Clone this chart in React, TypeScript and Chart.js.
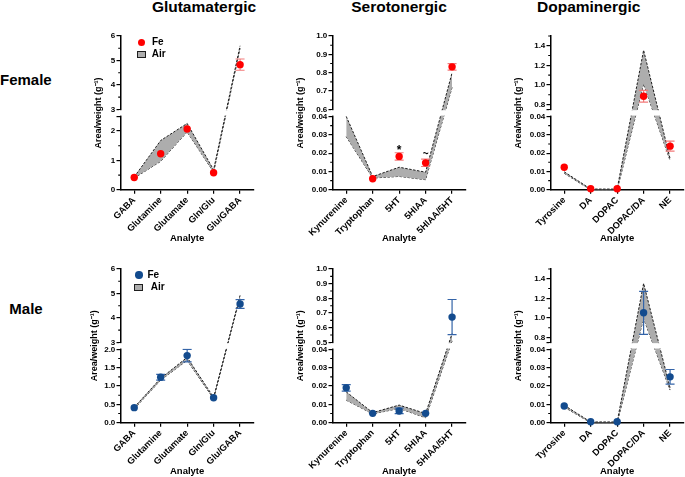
import React, { useEffect, useRef } from 'react';
import { Chart, registerables, LinearScale } from 'chart.js';

// ---------------- DATA ----------------
const glutCategories = ['GABA', 'Glutamine', 'Glutamate', 'Gln/Glu', 'Glu/GABA'];
const seroCategories = ['Kynurenine', 'Tryptophan', '5HT', '5HIAA', '5HIAA/5HT'];
const dopaCategories = ['Tyrosine', 'DA', 'DOPAC', 'DOPAC/DA', 'NE'];

// Female – glutamatergic
const glutFemaleFe = [0.42, 1.23, 2.07, 0.58, 4.83];
const glutFemaleFeErr = [0.02, 0.05, 0.05, 0.02, 0.23];
const glutFemaleAirHi = [0.44, 1.68, 2.26, 0.68, 5.6];
const glutFemaleAirLo = [0.4, 0.97, 1.97, 0.6, 5.5];
// Male – glutamatergic
const glutMaleFe = [0.41, 1.24, 1.83, 0.68, 4.57];
const glutMaleFeErr = [0.02, 0.08, 0.17, 0.02, 0.18];
const glutMaleAirHi = [0.42, 1.21, 1.78, 0.69, 4.92];
const glutMaleAirLo = [0.38, 1.16, 1.7, 0.65, 4.85];
// Female – serotonergic
const seroFemaleFe = [null, 0.006, 0.0182, 0.0147, 0.832];
const seroFemaleFeErr = [0, 0.0005, 0.002, 0.002, 0.018];
const seroFemaleAirHi = [0.04, 0.0072, 0.0123, 0.0096, 0.8];
const seroFemaleAirLo = [0.029, 0.0064, 0.0073, 0.0055, 0.72];
const seroFemaleMarks = ['', '', '*', '~', ''];
// Male – serotonergic
const seroMaleFe = [0.019, 0.0051, 0.0064, 0.0051, 0.672];
const seroMaleFeErr = [0.0018, 0.0004, 0.0015, 0.0004, 0.12];
const seroMaleAirHi = [0.0168, 0.0055, 0.0096, 0.005, 0.56];
const seroMaleAirLo = [0.0123, 0.0048, 0.0078, 0.0027, 0.51];
// Female – dopaminergic
const dopaFemaleFe = [0.0123, 0.0006, 0.0006, 0.885, 0.0238];
const dopaFemaleFeErr = [0.0004, 0.0002, 0.0002, 0.06, 0.0027];
const dopaFemaleAirHi = [0.0098, 0.0004, 0.0004, 1.355, 0.017];
const dopaFemaleAirLo = [0.009, 0.0, 0.0, 1.01, 0.016];
// Male – dopaminergic
const dopaMaleFe = [0.0091, 0.0005, 0.0005, 1.052, 0.025];
const dopaMaleFeErr = [0.0004, 0.0002, 0.0002, 0.22, 0.004];
const dopaMaleAirHi = [0.0095, 0.0004, 0.0004, 1.353, 0.019];
const dopaMaleAirLo = [0.0085, 0.0, 0.0, 0.995, 0.0178];

// Broken y-axis segments [min, max]
const glutFemaleBottomRange = [0, 2.5];
const glutFemaleTopRange = [3, 6];
const glutMaleBottomRange = [0, 2];
const glutMaleTopRange = [3, 6];
const seroFemaleBottomRange = [0, 0.04];
const seroFemaleTopRange = [0.6, 1.0];
const seroMaleBottomRange = [0, 0.04];
const seroMaleTopRange = [0.5, 1.0];
const dopaBottomRange = [0, 0.04];
const dopaTopRange = [0.75, 1.5];

// Tick labels
const glutFemaleBottomTicks = ['0', '1', '2'];
const glutFemaleTopTicks = ['3', '4', '5', '6'];
const glutFemaleMinorTicks = [0.5, 1.5, 3.5, 4.5, 5.5];
const glutMaleBottomTicks = ['0.0', '0.5', '1.0', '1.5', '2.0'];
const glutMaleTopTicks = ['3', '4', '5', '6'];
const glutMaleMinorTicks = [0.25, 0.75, 1.25, 1.75, 3.5, 4.5, 5.5];
const seroBottomTicks = ['0.00', '0.01', '0.02', '0.03', '0.04'];
const seroFemaleTopTicks = ['0.6', '0.7', '0.8', '0.9', '1.0'];
const seroFemaleMinorTicks = [0.005, 0.015, 0.025, 0.035, 0.65, 0.75, 0.85, 0.95];
const seroMaleTopTicks = ['0.5', '0.6', '0.7', '0.8', '0.9', '1.0'];
const seroMaleMinorTicks = [0.005, 0.015, 0.025, 0.035, 0.55, 0.65, 0.75, 0.85, 0.95];
const dopaBottomTicks = ['0.00', '0.01', '0.02', '0.03', '0.04'];
const dopaTopTicks = ['0.8', '1.0', '1.2', '1.4'];
const dopaMinorTicks = [0.005, 0.015, 0.025, 0.035, 0.9, 1.1, 1.3, 1.5];

const columnTitles = ['Glutamatergic', 'Serotonergic', 'Dopaminergic'];
const rowLabels = ['Female', 'Male'];
const legendLabels = ['Fe', 'Air'];
const xTitle = 'Analyte';
const yTitle = 'Area/weight (g\u207B\u00B9)';

// ---------------- STYLE / LAYOUT ----------------
const FONT = '"Liberation Sans", Arial, Helvetica, sans-serif';
const COLORS = {
  F: { point: '#FF0000', err: '#F27A7A' },
  M: { point: '#134B8E', err: '#3464A8' },
};
const AIR_FILL = '#ADADAD';
const AIR_LINE = '#1E1E1E';
const AXIS_X = [120.6, 333.3, 550.5];
const PLOT_TOP = [35.5, 269];
const PLOT_BOTTOM = [189.3, 422.7];
const Y_TITLE_DIST = [[22.6, 32.3, 32.8], [26.3, 32.6, 32.8]];
const PLOT_W = 133.5;
const Y_W = 40;
const PAD_TOP = 10;
const CANVAS_W = 176;
const CANVAS_H = 220;
const GAP = 7;
const X_TICK_SIZE = 9.2;
const Y_TICK_SIZE = 8;
const X_TITLE_SIZE = 9.5;
const Y_TITLE_SIZE = 9;

Chart.register(...registerables);
Chart.defaults.font.family = FONT;

type Brk = { botMin: number; botMax: number; topMin: number; topMax: number; gap: number; labels: string[]; minor: number[] };
const brkMap = new Map<any, Brk>();

class BrokenLinearScale extends LinearScale {
  static id = 'brokenLinear';
  get brk(): Brk {
    return brkMap.get((this as any).chart.canvas) as Brk;
  }
  determineDataLimits() {
    const b = this.brk;
    (this as any).min = b.botMin;
    (this as any).max = b.topMax;
  }
  buildTicks() {
    const b = this.brk;
    const ticks: any[] = b.labels.map((s) => ({ value: parseFloat(s), lbl: s }));
    [b.botMax, b.topMin].forEach((v) => {
      if (!ticks.some((t) => Math.abs(t.value - v) < 1e-9)) ticks.push({ value: v, lbl: '' });
    });
    ticks.sort((a, c) => a.value - c.value);
    return ticks;
  }
  getPixelForValue(value: number) {
    const b = this.brk;
    if (value === null || value === undefined || isNaN(value)) return NaN;
    const top = (this as any).top;
    const bottom = (this as any).bottom;
    const segH = (bottom - top - b.gap) / 2;
    if (value <= b.botMax) return bottom - ((value - b.botMin) / (b.botMax - b.botMin)) * segH;
    if (value >= b.topMin) return top + segH - ((value - b.topMin) / (b.topMax - b.topMin)) * segH;
    return bottom - segH - ((value - b.botMax) / (b.topMin - b.botMax)) * b.gap;
  }
  getValueForPixel(pixel: number) {
    const b = this.brk;
    const top = (this as any).top;
    const bottom = (this as any).bottom;
    const segH = (bottom - top - b.gap) / 2;
    const gTop = top + segH;
    const gBot = gTop + b.gap;
    if (pixel >= gBot) return b.botMin + ((bottom - pixel) / segH) * (b.botMax - b.botMin);
    if (pixel <= gTop) return b.topMin + ((gTop - pixel) / segH) * (b.topMax - b.topMin);
    return b.botMax + ((gBot - pixel) / b.gap) * (b.topMin - b.botMax);
  }
}
Chart.register(BrokenLinearScale as any);

const errorBarPlugin = {
  id: 'errorBars',
  beforeDatasetDraw(chart: any, args: any) {
    if (args.index !== 0) return;
    const ds = chart.data.datasets[0];
    const ys = chart.scales.y;
    const meta = chart.getDatasetMeta(0);
    const ctx = chart.ctx;
    ctx.save();
    ctx.strokeStyle = ds.errColor;
    ctx.lineWidth = 1.2;
    meta.data.forEach((pt: any, i: number) => {
      const v = ds.data[i];
      const e = ds.errors[i];
      if (v === null || v === undefined || !e) return;
      const y1 = ys.getPixelForValue(v + e);
      const y2 = ys.getPixelForValue(v - e);
      const x = pt.x;
      ctx.beginPath();
      ctx.moveTo(x, y1);
      ctx.lineTo(x, y2);
      if (Math.abs(y2 - y1) / 2 > 2.5) {
        ctx.moveTo(x - 4.5, y1);
        ctx.lineTo(x + 4.5, y1);
        ctx.moveTo(x - 4.5, y2);
        ctx.lineTo(x + 4.5, y2);
      }
      ctx.stroke();
    });
    ctx.restore();
  },
};

const brokenAxisPlugin = {
  id: 'brokenAxis',
  afterDatasetsDraw(chart: any) {
    const b = brkMap.get(chart.canvas);
    if (!b) return;
    const ys = chart.scales.y;
    const ca = chart.chartArea;
    const ctx = chart.ctx;
    const segH = (ys.bottom - ys.top - b.gap) / 2;
    const g1 = ys.top + segH;
    ctx.save();
    // white gap across axis and data
    ctx.fillStyle = '#FFFFFF';
    ctx.fillRect(ca.left - 2, g1 + 0.8, ca.right - ca.left + 4, b.gap - 1.6);
    // minor ticks
    ctx.strokeStyle = '#000';
    ctx.lineWidth = 1.1;
    ctx.beginPath();
    b.minor.forEach((v) => {
      const y = ys.getPixelForValue(v);
      ctx.moveTo(ca.left, y);
      ctx.lineTo(ca.left - 2.8, y);
    });
    ctx.stroke();
    // significance marks
    const ds = chart.data.datasets[0];
    if (ds.marks) {
      const meta = chart.getDatasetMeta(0);
      ctx.fillStyle = '#000';
      ctx.textAlign = 'center';
      ctx.textBaseline = 'alphabetic';
      ds.marks.forEach((m: string, i: number) => {
        if (!m) return;
        const v = ds.data[i] + (ds.errors[i] || 0);
        const y = ys.getPixelForValue(v);
        const x = meta.data[i].x;
        if (m === '*') {
          ctx.font = `bold 12px ${FONT}`;
          ctx.fillText(m, x, y + 1);
        } else {
          ctx.font = `bold 10px ${FONT}`;
          ctx.fillText(m, x, y - 2.5);
        }
      });
    }
    ctx.restore();
  },
};

type Panel = {
  row: number;
  col: number;
  sex: 'F' | 'M';
  categories: string[];
  fe: (number | null)[];
  err: number[];
  hi: number[];
  lo: number[];
  bot: number[];
  top: number[];
  botTicks: string[];
  topTicks: string[];
  minor: number[];
  marks?: string[];
};

const panels: Panel[] = [
  { row: 0, col: 0, sex: 'F', categories: glutCategories, fe: glutFemaleFe, err: glutFemaleFeErr, hi: glutFemaleAirHi, lo: glutFemaleAirLo, bot: glutFemaleBottomRange, top: glutFemaleTopRange, botTicks: glutFemaleBottomTicks, topTicks: glutFemaleTopTicks, minor: glutFemaleMinorTicks },
  { row: 0, col: 1, sex: 'F', categories: seroCategories, fe: seroFemaleFe, err: seroFemaleFeErr, hi: seroFemaleAirHi, lo: seroFemaleAirLo, bot: seroFemaleBottomRange, top: seroFemaleTopRange, botTicks: seroBottomTicks, topTicks: seroFemaleTopTicks, minor: seroFemaleMinorTicks, marks: seroFemaleMarks },
  { row: 0, col: 2, sex: 'F', categories: dopaCategories, fe: dopaFemaleFe, err: dopaFemaleFeErr, hi: dopaFemaleAirHi, lo: dopaFemaleAirLo, bot: dopaBottomRange, top: dopaTopRange, botTicks: dopaBottomTicks, topTicks: dopaTopTicks, minor: dopaMinorTicks },
  { row: 1, col: 0, sex: 'M', categories: glutCategories, fe: glutMaleFe, err: glutMaleFeErr, hi: glutMaleAirHi, lo: glutMaleAirLo, bot: glutMaleBottomRange, top: glutMaleTopRange, botTicks: glutMaleBottomTicks, topTicks: glutMaleTopTicks, minor: glutMaleMinorTicks },
  { row: 1, col: 1, sex: 'M', categories: seroCategories, fe: seroMaleFe, err: seroMaleFeErr, hi: seroMaleAirHi, lo: seroMaleAirLo, bot: seroMaleBottomRange, top: seroMaleTopRange, botTicks: seroBottomTicks, topTicks: seroMaleTopTicks, minor: seroMaleMinorTicks },
  { row: 1, col: 2, sex: 'M', categories: dopaCategories, fe: dopaMaleFe, err: dopaMaleFeErr, hi: dopaMaleAirHi, lo: dopaMaleAirLo, bot: dopaBottomRange, top: dopaTopRange, botTicks: dopaBottomTicks, topTicks: dopaTopTicks, minor: dopaMinorTicks },
];

function PanelChart({ p }: { p: Panel }) {
  const ref = useRef<HTMLCanvasElement>(null);
  const plotH = PLOT_BOTTOM[p.row] - PLOT_TOP[p.row];
  const xH = CANVAS_H - PAD_TOP - plotH;
  const xLh = X_TITLE_SIZE * 1.2;
  const yLh = Y_TITLE_SIZE * 1.2;
  const xPadB = CANVAS_H - (PAD_TOP + plotH + 48.2) - xLh / 2;
  const yPadT = Y_W - Y_TITLE_DIST[p.row][p.col] - yLh / 2;

  useEffect(() => {
    const canvas = ref.current as HTMLCanvasElement;
    brkMap.set(canvas, {
      botMin: p.bot[0], botMax: p.bot[1], topMin: p.top[0], topMax: p.top[1], gap: GAP,
      labels: [...p.botTicks, ...p.topTicks], minor: p.minor,
    });
    const col = COLORS[p.sex];
    const lineDs = (data: number[], fill: any) => ({
      data,
      borderColor: AIR_LINE,
      borderWidth: 1,
      borderDash: [2.5, 1.5],
      pointRadius: 0,
      pointHoverRadius: 0,
      fill,
      backgroundColor: AIR_FILL,
      tension: 0,
    });
    const chart = new Chart(canvas, {
      type: 'line',
      data: {
        labels: p.categories,
        datasets: [
          {
            label: 'Fe',
            data: p.fe,
            showLine: false,
            pointRadius: 3.7,
            pointHoverRadius: 3.7,
            pointBackgroundColor: col.point,
            pointBorderWidth: 0,
            borderWidth: 0,
            borderColor: col.point,
            clip: false,
            errors: p.err,
            errColor: col.err,
            marks: p.marks,
          } as any,
          { label: 'Air', ...lineDs(p.hi, '+1') } as any,
          { label: 'Air lo', ...lineDs(p.lo, false) } as any,
        ],
      },
      options: {
        animation: false,
        responsive: true,
        maintainAspectRatio: false,
        events: [],
        layout: { padding: { top: PAD_TOP, right: CANVAS_W - Y_W - PLOT_W, bottom: 0, left: 0 } },
        plugins: { legend: { display: false }, tooltip: { enabled: false }, title: { display: false } },
        scales: {
          x: {
            type: 'category',
            offset: true,
            afterFit: (s: any) => { s.height = xH; },
            grid: { display: true, drawOnChartArea: false, drawTicks: true, tickLength: 4, color: '#000', lineWidth: 1.2, offset: false },
            border: { display: true, color: '#000', width: 1.5 },
            ticks: { autoSkip: false, minRotation: 45, maxRotation: 45, padding: 1, color: '#000', font: { size: X_TICK_SIZE, weight: 'bold', family: FONT } },
            title: { display: true, text: xTitle, color: '#000', font: { size: X_TITLE_SIZE, weight: 'bold', family: FONT }, padding: { top: 0, bottom: xPadB } },
          },
          y: {
            type: 'brokenLinear',
            position: 'left',
            afterFit: (s: any) => { s.width = Y_W; },
            grid: { display: true, drawOnChartArea: false, drawTicks: true, tickLength: 4.5, color: '#000', lineWidth: 1.2 },
            border: { display: true, color: '#000', width: 1.5 },
            ticks: {
              autoSkip: false,
              padding: 1.2,
              color: '#000',
              font: { size: Y_TICK_SIZE, weight: 'bold', family: FONT },
              callback: (_v: any, i: number, ticks: any[]) => ticks[i].lbl,
            },
            title: { display: true, text: yTitle, color: '#000', font: { size: Y_TITLE_SIZE, weight: 'bold', family: FONT }, padding: { top: yPadT, bottom: 0 } },
          } as any,
        },
      },
      plugins: [errorBarPlugin, brokenAxisPlugin],
    } as any);
    return () => {
      chart.destroy();
      brkMap.delete(canvas);
    };
  }, []);

  return (
    <div
      style={{
        position: 'absolute',
        left: AXIS_X[p.col] - Y_W,
        top: PLOT_TOP[p.row] - PAD_TOP,
        width: CANVAS_W,
        height: CANVAS_H,
      }}
    >
      <canvas ref={ref} />
    </div>
  );
}

const textBase: React.CSSProperties = {
  position: 'absolute',
  fontFamily: FONT,
  fontWeight: 700,
  lineHeight: 1,
  color: '#000',
  whiteSpace: 'nowrap',
};

function Legend({ sex, row }: { sex: 'F' | 'M'; row: number }) {
  const f = row === 0
    ? { cx: 141.7, cy: 42.3, feX: 152, bx: 136.7, by: 50.7, airX: 151.7, airY: 54 }
    : { cx: 139.0, cy: 275, feX: 147.5, bx: 133.5, by: 284.3, airX: 150.7, airY: 287.3 };
  return (
    <>
      <div style={{ position: 'absolute', left: f.cx - 3.7, top: f.cy - 3.7, width: 7.4, height: 7.4, borderRadius: '50%', background: COLORS[sex].point }} />
      <div style={{ ...textBase, fontSize: 10, left: f.feX, top: f.cy - 4.9 }}>{legendLabels[0]}</div>
      <div style={{ position: 'absolute', left: f.bx, top: f.by, width: 7.4, height: 5, background: AIR_FILL, border: `1px solid ${AIR_LINE}` }} />
      <div style={{ ...textBase, fontSize: 10, left: f.airX, top: f.airY - 4.9 }}>{legendLabels[1]}</div>
    </>
  );
}

export default function App() {
  const titleCenters = [204, 399, 588.7];
  return (
    <div style={{ position: 'fixed', left: 0, top: 0, width: 685, height: 477, overflow: 'hidden', background: '#fff' }}>
      {columnTitles.map((t, i) => (
        <div key={t} style={{ ...textBase, fontSize: 15.5, left: titleCenters[i] - 100, width: 200, textAlign: 'center', top: -1.1 }}>{t}</div>
      ))}
      <div style={{ ...textBase, fontSize: 15, left: 0, top: 71.6 }}>{rowLabels[0]}</div>
      <div style={{ ...textBase, fontSize: 15, left: 9.3, top: 301.3 }}>{rowLabels[1]}</div>
      {panels.map((p) => (
        <PanelChart key={`${p.row}-${p.col}`} p={p} />
      ))}
      <Legend sex="F" row={0} />
      <Legend sex="M" row={1} />
    </div>
  );
}
